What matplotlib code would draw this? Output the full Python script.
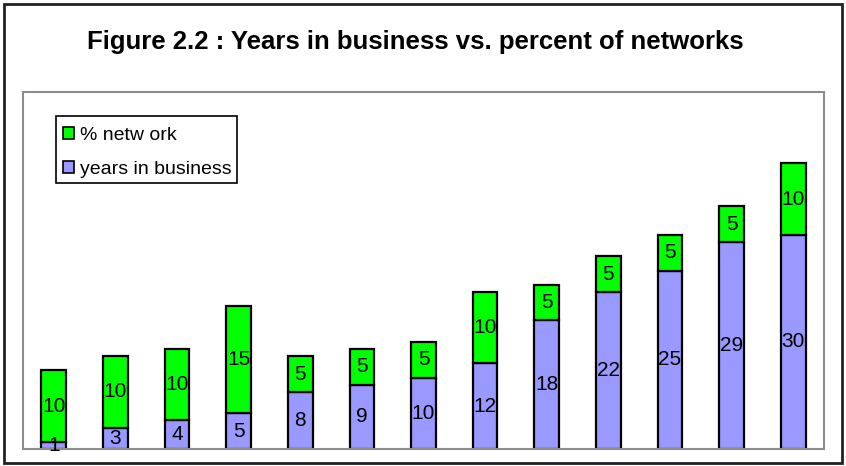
import matplotlib
matplotlib.use("Agg")
import matplotlib.pyplot as plt
from matplotlib.patches import Rectangle, Patch

plt.rcParams['font.family'] = ['Liberation Sans', 'DejaVu Sans']

# Stacked values per bar
years_in_business = [1, 3, 4, 5, 8, 9, 10, 12, 18, 22, 25, 29, 30]
pct_network = [10, 10, 10, 15, 5, 5, 5, 10, 5, 5, 5, 5, 10]
series_names = ["% netw ork", "years in business"]
title_text = "Figure 2.2 : Years in business vs. percent of networks"

W, H = 846, 466
fig = plt.figure(figsize=(W / 100, H / 100), dpi=100)

# Outer frame around the whole chart
fig.patches.append(Rectangle((4 / W, 3 / H), 838 / W, 459 / H, transform=fig.transFigure,
                             fill=False, edgecolor='#222222', linewidth=2))

fig.text(415 / W, 1 - 49 / H, title_text, ha='center', va='baseline',
         fontsize=18.5, fontweight='bold')

ax = fig.add_axes([23 / W, 17 / H, 801 / W, 357 / H])
x = list(range(len(years_in_business)))
purple = '#9999FF'
green = '#00FF00'
ax.bar(x, years_in_business, width=0.4, color=purple, edgecolor='black', linewidth=1.6)
ax.bar(x, pct_network, width=0.4, bottom=years_in_business, color=green,
       edgecolor='black', linewidth=1.6)

for xi, y, p in zip(x, years_in_business, pct_network):
    ax.text(xi, y / 2, str(y), ha='center', va='center', fontsize=15)
    ax.text(xi, y + p / 2, str(p), ha='center', va='center', fontsize=15)

ax.set_xlim(-0.5, len(x) - 0.5)
ax.set_ylim(0, 50)
ax.set_xticks([])
ax.set_yticks([])
for s in ax.spines.values():
    s.set_color('#8c8c8c')
    s.set_linewidth(1.5)

# Legend box drawn separately so its padding can be set exactly
fig.patches.append(Rectangle((56 / W, 1 - 183 / H), 181 / W, 67 / H, transform=fig.transFigure,
                             facecolor='white', edgecolor='black', linewidth=1.2, zorder=5))
handles = [Patch(facecolor=green, edgecolor='black', linewidth=1.2),
           Patch(facecolor=purple, edgecolor='black', linewidth=1.2)]
leg = fig.legend(handles, series_names, loc='upper left',
                 bbox_to_anchor=(63 / W, 1 - 127 / H), borderaxespad=0, borderpad=0,
                 fontsize=14, frameon=False,
                 handlelength=0.57, handleheight=0.57, handletextpad=0.3,
                 labelspacing=0.88)
leg.set_zorder(6)

fig.savefig('out.png', dpi=100)
